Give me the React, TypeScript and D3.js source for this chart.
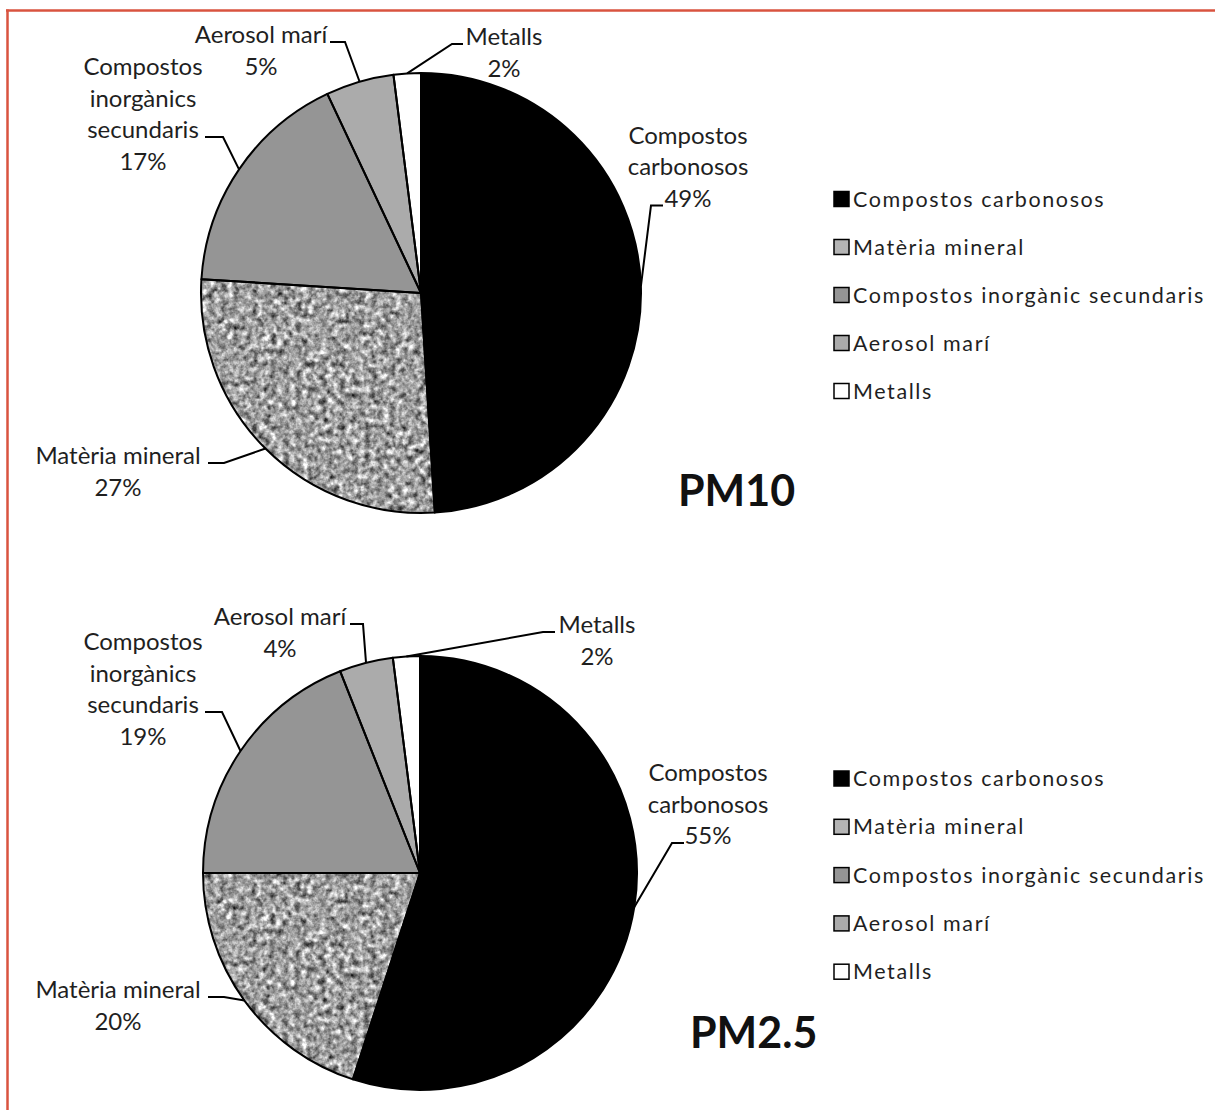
import React from "react";
import * as d3 from "d3";

// ---------- data ----------
const categories = [
  "Compostos carbonosos",
  "Matèria mineral",
  "Compostos inorgànic secundaris",
  "Aerosol marí",
  "Metalls",
];
const pm10Values = [49, 27, 17, 5, 2];
const pm25Values = [55, 20, 19, 4, 2];
const labelNames = [
  ["Compostos", "carbonosos"],
  ["Matèria mineral"],
  ["Compostos", "inorgànics", "secundaris"],
  ["Aerosol marí"],
  ["Metalls"],
];
const chartTitles = ["PM10", "PM2.5"];

// ---------- styles ----------
const sliceFills = ["#000000", "#a2a2a2", "#959595", "#ababab", "#ffffff"];
const TEXTURED = 1; // index of the textured (granite) slice
const FONT = "Lato, 'Open Sans', sans-serif";
const LINE_H = 31.5;

// ---------- layout ----------
const layouts = [
  {
    values: pm10Values,
    cx: 421, cy: 293, r: 220,
    titleX: 678, titleY: 506,
    legendY: 206.5, legendStep: 48,
    labels: [
      { x: 688, y: 143.5, line: 2, x1: 663, x2: 651 },
      { x: 118, y: 464, line: 0, x1: 208, x2: 224 },
      { x: 143, y: 75, line: 2, x1: 205, x2: 223 },
      { x: 261, y: 43, line: 0, x1: 330, x2: 345 },
      { x: 504, y: 45, line: 0, x1: 463, x2: 452 },
    ],
  },
  {
    values: pm25Values,
    cx: 420, cy: 873, r: 217,
    titleX: 690, titleY: 1048,
    legendY: 786, legendStep: 48.3,
    labels: [
      { x: 708, y: 781, line: 2, x1: 684, x2: 672 },
      { x: 118, y: 998, line: 0, x1: 208, x2: 224 },
      { x: 143, y: 650, line: 2, x1: 205, x2: 222 },
      { x: 280, y: 625, line: 0, x1: 350, x2: 363 },
      { x: 597, y: 633, line: 0, x1: 555, x2: 543 },
    ],
  },
];

function PieChart({ idx }: { idx: number }) {
  const L = layouts[idx];
  const pie = d3.pie<number>().sort(null).value((d) => d);
  const arcs = pie(L.values);
  const arcGen = d3.arc<d3.PieArcDatum<number>>().innerRadius(0).outerRadius(L.r);
  const edgeGen = d3.arc<d3.PieArcDatum<number>>().innerRadius(L.r).outerRadius(L.r);

  return (
    <g>
      <g transform={`translate(${L.cx},${L.cy})`}>
        {arcs.map((a, i) => (
          <path
            key={"f" + i}
            d={arcGen(a) || ""}
            fill={sliceFills[i]}
            filter={i === TEXTURED ? "url(#granite)" : undefined}
          />
        ))}
        {arcs.map((a, i) => (
          <path
            key={"s" + i}
            d={arcGen(a) || ""}
            fill="none"
            stroke="#000"
            strokeWidth={2}
            strokeLinejoin="round"
          />
        ))}
      </g>
      {arcs.map((a, i) => {
        const lab = L.labels[i];
        const lines = [...labelNames[i], `${L.values[i]}%`];
        const [ax, ay] = edgeGen.centroid(a);
        const hy = lab.y + lab.line * LINE_H - 1;
        return (
          <g key={"l" + i}>
            <polyline
              points={`${lab.x1},${hy} ${lab.x2},${hy} ${L.cx + ax},${L.cy + ay}`}
              fill="none"
              stroke="#000"
              strokeWidth={2}
            />
            {lines.map((t, j) => (
              <text
                key={j}
                x={lab.x}
                y={lab.y + j * LINE_H}
                textAnchor="middle"
                fontFamily={FONT}
                fontSize={24}
                fill="#1f1f1f"
              >
                {t}
              </text>
            ))}
          </g>
        );
      })}
      {categories.map((c, i) => {
        const by = L.legendY + i * L.legendStep;
        return (
          <g key={"lg" + i}>
            <rect
              x={834}
              y={by - 15}
              width={15}
              height={15}
              fill={i === TEXTURED ? "#b4b4b4" : sliceFills[i]}
            />
            <rect x={834} y={by - 15} width={15} height={15} fill="none" stroke="#000" strokeWidth={1.5} />
            <text x={853} y={by} fontFamily={FONT} fontSize={21.5} letterSpacing={1.6} fill="#1f1f1f">
              {c}
            </text>
          </g>
        );
      })}
      <text x={L.titleX} y={L.titleY} fontFamily={FONT} fontWeight={700} fontSize={43} fill="#111">
        {chartTitles[idx]}
      </text>
    </g>
  );
}

export default function App() {
  return (
    <svg
      width={1215}
      height={1110}
      style={{ position: "absolute", left: 0, top: 0, background: "#fff" }}
    >
      <defs>
        <filter id="granite" x="0%" y="0%" width="100%" height="100%" colorInterpolationFilters="sRGB">
          <feTurbulence type="fractalNoise" baseFrequency="0.16" numOctaves="3" seed="7" result="n" />
          <feColorMatrix
            in="n"
            type="matrix"
            values="0.9 0.9 0 0 -0.28  0.9 0.9 0 0 -0.28  0.9 0.9 0 0 -0.28  0 0 0 0 1"
            result="g"
          />
          <feGaussianBlur in="g" stdDeviation="0.6" result="b" />
          <feComposite in="b" in2="SourceGraphic" operator="in" />
        </filter>
      </defs>
      <rect x={0} y={0} width={1215} height={1110} fill="#fff" />
      <line x1={6} y1={10.5} x2={1215} y2={10.5} stroke="#d9533f" strokeWidth={2.5} />
      <line x1={7.5} y1={9.5} x2={7.5} y2={1110} stroke="#d9533f" strokeWidth={2.5} />
      <PieChart idx={0} />
      <PieChart idx={1} />
    </svg>
  );
}
